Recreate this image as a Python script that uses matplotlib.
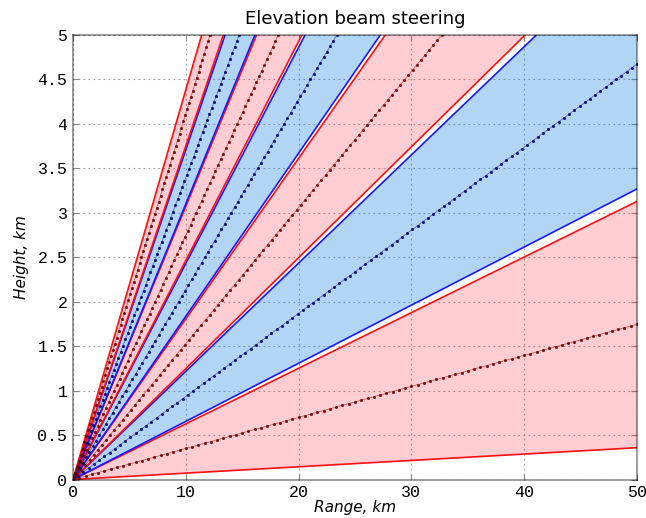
import numpy as np
import matplotlib
matplotlib.use("Agg")
import matplotlib.pyplot as plt

# Beam geometry: elevation angles in degrees (lower edge, centre, upper edge)
beam_lower_deg = [0.41, 3.74, 7.11, 10.40, 13.84, 17.22, 20.56]
beam_center_deg = [2.00, 5.34, 8.70, 12.07, 15.37, 18.76, 22.38]
beam_upper_deg = [3.58, 6.94, 10.24, 13.66, 17.08, 20.35, 23.67]
beam_kind = ["red", "blue", "red", "blue", "red", "blue", "red"]

x_ticks = [0, 10, 20, 30, 40, 50]
y_ticks = [0, 0.5, 1, 1.5, 2, 2.5, 3, 3.5, 4, 4.5, 5]
x_tick_labels = ["0", "10", "20", "30", "40", "50"]
y_tick_labels = ["0", "0.5", "1", "1.5", "2", "2.5", "3", "3.5", "4", "4.5", "5"]

x_max, y_max = 50, 5

styles = {
    "red": dict(fill="#ff051e", fill_alpha=0.2, edge="#ff1010", centre="#6e0000"),
    "blue": dict(fill="#0576e1", fill_alpha=0.30, edge="#1818ff", centre="#000066"),
}

fig = plt.figure(figsize=(6.46, 5.18), dpi=100)
ax = fig.add_axes([73 / 646, 1 - 479.5 / 518, (637 - 73) / 646, (479.5 - 35) / 518])

r = np.array([0.0, x_max])
for lo, c, up, kind in zip(beam_lower_deg, beam_center_deg, beam_upper_deg, beam_kind):
    st = styles[kind]
    h_lo = r * np.tan(np.radians(lo))
    h_up = r * np.tan(np.radians(up))
    ax.fill_between(r, h_lo, h_up, color=st["fill"], alpha=st["fill_alpha"],
                    linewidth=0, zorder=1)
    ax.plot(r, h_lo, color=st["edge"], lw=1.2, zorder=3)
    ax.plot(r, h_up, color=st["edge"], lw=1.2, zorder=3)

    # dotted beam axis, sampled evenly along its visible length
    t = np.tan(np.radians(c))
    r_end = min(x_max, y_max / t)
    px_len = np.hypot(r_end * 564 / x_max, r_end * t * 444.5 / y_max)
    n = int(round(px_len / 6.5)) + 1
    rc = np.linspace(0, r_end, n)
    ax.plot(rc, rc * t, color=st["centre"], lw=0.6, alpha=0.5, zorder=4)
    ax.plot(rc, rc * t, ls="none", marker="o", ms=2.2, mew=0,
            color=st["centre"], alpha=0.9, zorder=4)

ax.set_xlim(0, x_max)
ax.set_ylim(0, y_max)
ax.set_xticks(x_ticks)
ax.set_xticklabels(x_tick_labels)
ax.set_yticks(y_ticks)
ax.set_yticklabels(y_tick_labels)

ax.set_axisbelow(True)
ax.grid(True, color="#9a9a9a", ls=(0, (1.5, 3)), lw=0.8, zorder=0)

ax.tick_params(direction="in", length=4, width=0.8, color="#888888",
               top=True, right=True, labelsize=12, pad=4)
for lab in ax.get_xticklabels() + ax.get_yticklabels():
    lab.set_family("Liberation Mono")

for sp in ax.spines.values():
    sp.set_color("black")
    sp.set_alpha(0.45)
    sp.set_linewidth(1.2)
    sp.set_zorder(6)

ax.set_title("Elevation beam steering", fontsize=13, pad=8)
ax.set_xlabel("Range, km", fontsize=11, style="italic", labelpad=0)
ax.set_ylabel("Height, km", fontsize=11, style="italic", labelpad=6)

fig.savefig("out.png", dpi=100)
